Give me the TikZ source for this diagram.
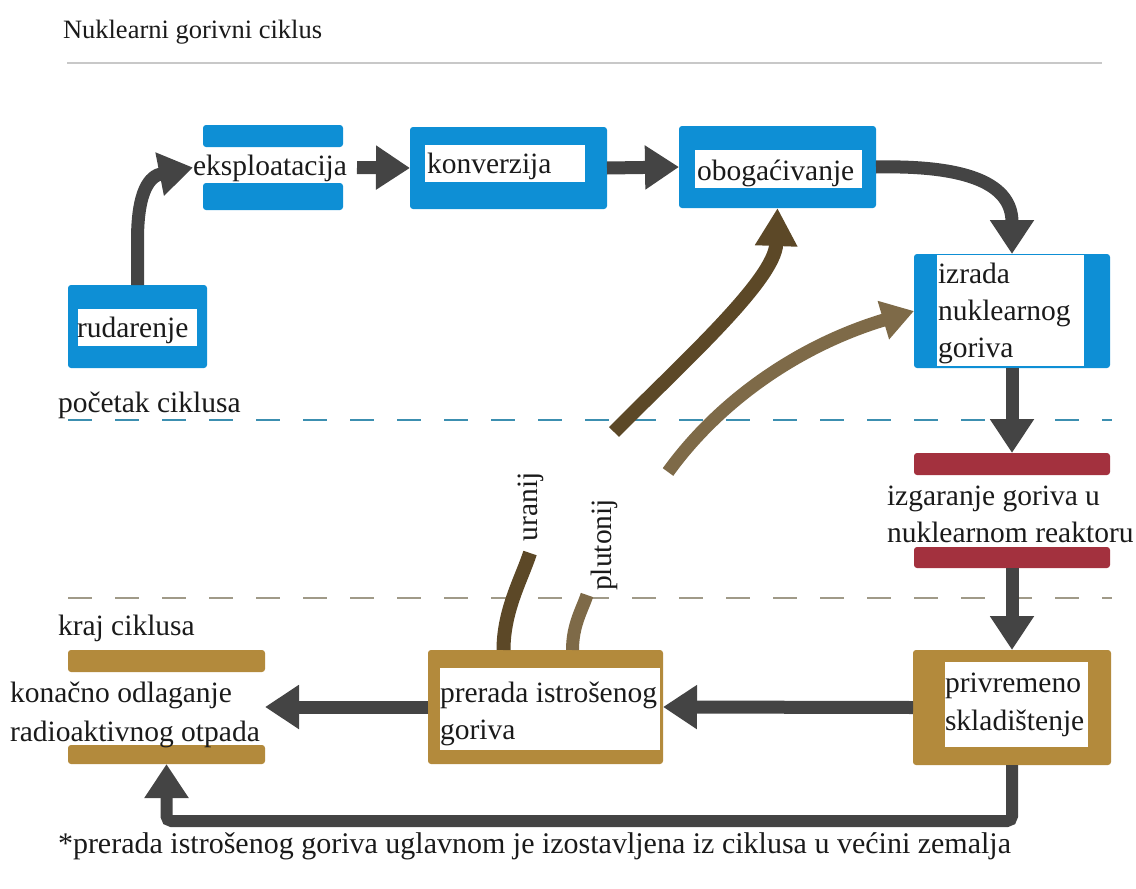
\documentclass[tikz,border=0pt]{standalone}
\usepackage{fontspec}
\setmainfont{Liberation Serif}
\usetikzlibrary{arrows.meta}
\definecolor{cblue}{HTML}{0E8FD5}
\definecolor{cred}{HTML}{A3313E}
\definecolor{cgold}{HTML}{B38A3C}
\definecolor{agray}{HTML}{444444}
\definecolor{curan}{HTML}{5C4827}
\definecolor{cplut}{HTML}{7E6A48}
\definecolor{ctext}{HTML}{1A1A1A}
\definecolor{cdashA}{HTML}{3C8FB0}
\definecolor{cdashB}{HTML}{A09A88}
\definecolor{crule}{HTML}{C8C8C8}
\begin{document}
\begin{tikzpicture}[x=1pt,y=-1pt,
  ghost/.style={inner sep=0pt,outer sep=0pt},
  bluebox/.style={ghost,fill=cblue,rounded corners=3pt},
  goldbox/.style={ghost,fill=cgold,rounded corners=3pt},
  txt/.style={inner sep=0pt,outer sep=0pt,text=ctext,font=\fontsize{29.5}{37}\selectfont,anchor=base west},
  arr/.style={draw=agray,line width=13pt,-{Triangle[length=34pt,width=42pt]}},
  uran/.style={draw=curan,line width=14pt},
  plut/.style={draw=cplut,line width=13pt},
  uranarr/.style={uran,-{Triangle[length=38pt,width=40pt]}},
  plutarr/.style={plut,-{Triangle[length=32pt,width=38pt]}},
  dashA/.style={draw=cdashA,line width=2pt,dash pattern=on 24pt off 23pt},
  dashB/.style={draw=cdashB,line width=2pt,dash pattern=on 24pt off 23pt}]
\useasboundingbox (0,0) rectangle (1136,889);

% title
\node[txt,font=\fontsize{26.5}{30}\selectfont] (title) at (63,38) {Nuklearni gorivni ciklus};
\draw[crule,line width=1.5pt] (67,63) -- (1102,63);

% dashed separators
\draw[dashA] (68,420) -- (1112,420);
\draw[dashB] (68,598) -- (1112,598);
\node[txt] (poc) at (58,412) {početak ciklusa};
\node[txt] (kraj) at (58,635) {kraj ciklusa};

% rudarenje
\node[bluebox,minimum width=139pt,minimum height=83pt] (rud) at (137.5,326.5) {};
\fill[white] (78,309) rectangle (197,346);
\node[txt] (rudt) at (77,337) {rudarenje};

% eksploatacija
\node[ghost,minimum width=140pt,minimum height=85pt] (eks) at (273,167.5) {};
\fill[cblue,rounded corners=3pt] (eks.north west) rectangle ++(140,22);
\fill[cblue,rounded corners=3pt] (eks.south west) rectangle ++(140,-27);
\node[txt] (ekst) at (193,175) {eksploatacija};

% konverzija
\node[bluebox,minimum width=197pt,minimum height=82pt] (kon) at (508.5,168) {};
\fill[white] (425,145) rectangle (585,182);
\node[txt] (kont) at (427,173) {konverzija};

% obogacivanje
\node[bluebox,minimum width=197pt,minimum height=82pt] (obog) at (777.5,167) {};
\fill[white] (695,150) rectangle (862,188);
\node[txt] (obogt) at (697,180) {obogaćivanje};

% izrada nuklearnog goriva
\node[bluebox,minimum width=196pt,minimum height=114pt] (izr) at (1012,311) {};
\fill[white] (937,255) rectangle (1084,366);
\node[txt] (izr1) at (938,283) {izrada};
\node[txt] (izr2) at (938,320) {nuklearnog};
\node[txt] (izr3) at (938,357) {goriva};

% izgaranje
\node[ghost,minimum width=196pt,minimum height=115pt] (izg) at (1012,510.5) {};
\fill[cred,rounded corners=3pt] (izg.north west) rectangle ++(196,22);
\fill[cred,rounded corners=3pt] (izg.south west) rectangle ++(196,-21);
\node[txt] (izg1) at (887,505) {izgaranje goriva u};
\node[txt] (izg2) at (887,542) {nuklearnom reaktoru};

% privremeno skladistenje
\node[goldbox,minimum width=198pt,minimum height=115pt] (priv) at (1012,707.5) {};
\fill[white] (945,662) rectangle (1088,747);
\node[txt] (priv1) at (945,692) {privremeno};
\node[txt] (priv2) at (945,730) {skladištenje};

% prerada istrosenog goriva
\node[goldbox,minimum width=235pt,minimum height=114pt] (prer) at (545.5,707) {};
\fill[white] (440,668) rectangle (660,750);
\node[txt] (prer1) at (440,702) {prerada istrošenog};
\node[txt] (prer2) at (440,739) {goriva};

% konacno odlaganje
\node[ghost,minimum width=197pt,minimum height=114pt] (odl) at (166.5,707) {};
\fill[cgold,rounded corners=3pt] (odl.north west) rectangle ++(197,22);
\fill[cgold,rounded corners=3pt] (odl.south west) rectangle ++(197,-19);
\node[txt] (odl1) at (10,702) {konačno odlaganje};
\node[txt] (odl2) at (10,741) {radioaktivnog otpada};

% main cycle arrows
\draw[arr] (rud.north) -- ++(0,-45) .. controls +(0,-50) and (150,176) .. ([xshift=-10pt]eks.west);
\draw[arr] ([xshift=14pt]eks.east) -- (kon.west);
\draw[arr] (kon.east) -- (obog.west);
\draw[arr] (obog.east) .. controls (970,165) and (1012,185) .. (izr.north);
\draw[arr] (izr.south) -- (izg.north);
\draw[arr] (izg.south) -- (priv.north);
\draw[arr] (priv.west) -- (prer.east);
\draw[arr] (prer.west) -- (odl.east);
\draw[arr,line width=12pt,rounded corners=5pt] (priv.south) -- ++(0,56) -| (odl.south);

% recycled uranium / plutonium
\coordinate (urtop) at (530,553);
\coordinate (pltop) at (587,595);
\coordinate (ustart) at (614,432);
\coordinate (pstart) at (668,472);
\draw[uran] ([xshift=-42pt]prer.north) .. controls +(0,-40) and +(-8,25) .. (urtop);
\draw[plut] ([xshift=27pt]prer.north) .. controls +(0,-25) and +(-5,15) .. (pltop);
\draw[uranarr] (ustart) .. controls (680,365) and (775,280) .. (obog.south);
\draw[plutarr] (pstart) .. controls (720,400) and (800,345) .. (izr.west);
\node[txt,anchor=center,rotate=90] (urt) at (531,507) {uranij};
\node[txt,anchor=center,rotate=90] (plt) at (604,545) {plutonij};

% footnote
\node[txt,font=\fontsize{30}{36}\selectfont] (note) at (58,853) {*prerada istrošenog goriva uglavnom je izostavljena iz ciklusa u većini zemalja};
\end{tikzpicture}
\end{document}
